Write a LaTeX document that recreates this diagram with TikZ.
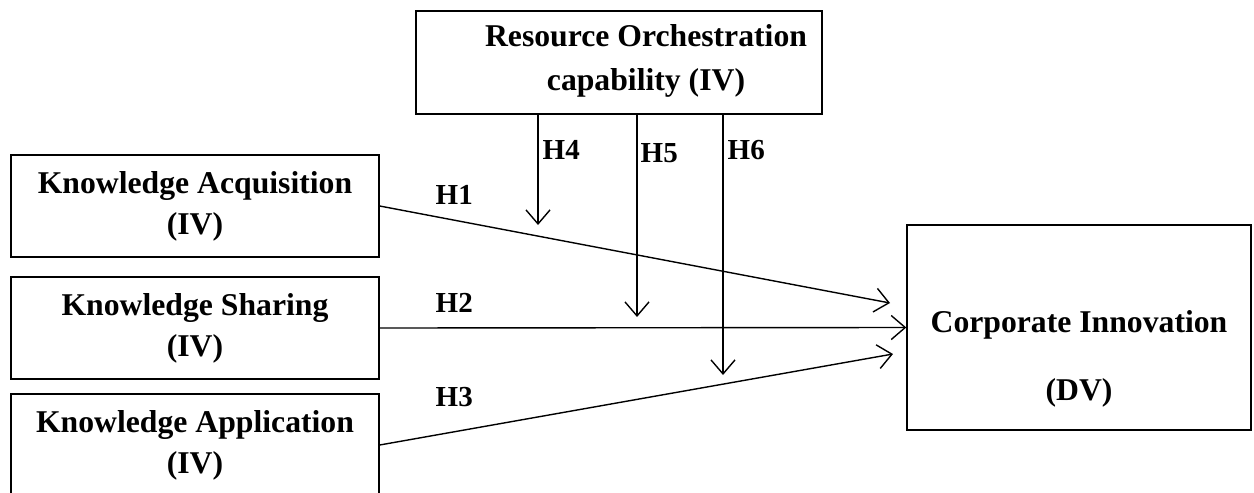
\documentclass[tikz,border=0pt]{standalone}
\usepackage{fontspec}
\setmainfont{Liberation Serif}
\usetikzlibrary{arrows.meta}
\begin{document}
\begin{tikzpicture}
[x=1pt,y=-1pt,line width=1.4pt,
var box/.style={draw,rectangle,inner sep=0pt},
var text/.style={align=center,inner sep=0pt,font=\fontsize{31.7}{41}\selectfont\bfseries},
hyp label/.style={anchor=west,inner sep=0pt,font=\fontsize{29}{30}\selectfont\bfseries},
hyp arrow/.style={-{Straight Barb[length=14pt,width=24pt,line width=1.4pt]}}]
\useasboundingbox (0,0) rectangle (1254,493);
\clip (0,0) rectangle (1254,493);
\node[var box,var text,minimum width=368pt,minimum height=102pt] (ka) at (195,206) {Knowledge Acquisition\\(IV)};
\node[var box,var text,minimum width=368pt,minimum height=102pt] (ks) at (195,328) {Knowledge Sharing\\(IV)};
\node[var box,var text,minimum width=368pt,minimum height=102pt] (kapp) at (195,445) {Knowledge Application\\(IV)};
\node[var box,minimum width=406pt,minimum height=103pt] (roc) at (619,62.5) {};
\node[var text,font=\fontsize{31.7}{44}\selectfont\bfseries] (roctext) at (646,61) {Resource Orchestration\\capability (IV)};
\node[var box,minimum width=344pt,minimum height=205pt] (ci) at (1079,327.5) {};
\node[var text,font=\fontsize{31.7}{68}\selectfont\bfseries] (citext) at (1079,359) {Corporate Innovation\\(DV)};
\coordinate (h1end) at (890,303);
\coordinate (h3end) at (893,354);
\coordinate (h4end) at (538,225);
\coordinate (h5end) at (637,317);
\coordinate (h6end) at (723,375);
\draw[hyp arrow] (ka.east) -- (h1end);
\draw[hyp arrow] (ks.east) -- (ci.west);
\draw[hyp arrow] (kapp.east) -- (h3end);
\draw[hyp arrow] (roc.south -| h4end) -- (h4end);
\draw[hyp arrow] (roc.south -| h5end) -- (h5end);
\draw[hyp arrow] (roc.south -| h6end) -- (h6end);
\node[hyp label] (h1) at (435,195) {H1};
\node[hyp label] (h2) at (435,303) {H2};
\node[hyp label] (h3) at (435,397) {H3};
\node[hyp label] (h4) at (542,150) {H4};
\node[hyp label] (h5) at (640,153) {H5};
\node[hyp label] (h6) at (727,150) {H6};
\end{tikzpicture}
\end{document}
